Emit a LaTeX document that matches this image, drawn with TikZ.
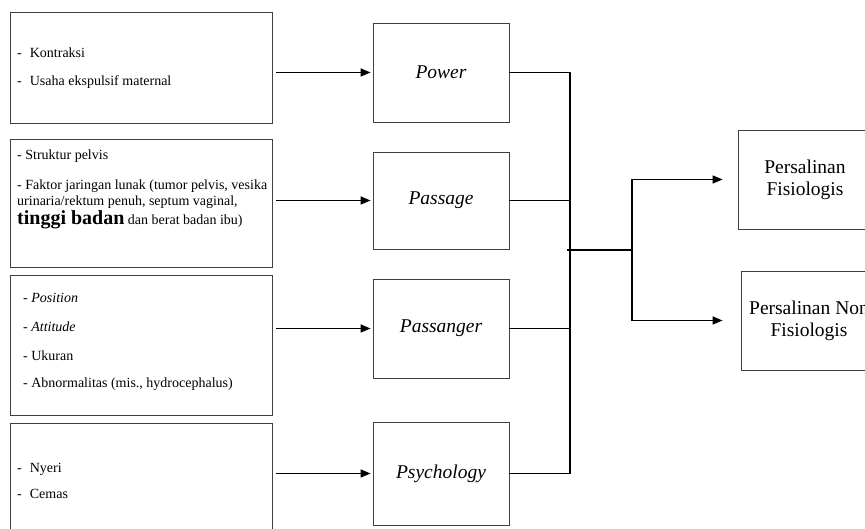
\documentclass[tikz,border=0pt]{standalone}
\usepackage{fontspec}
\setmainfont{Liberation Serif}
\usetikzlibrary{arrows.meta,positioning}
\begin{document}
\begin{tikzpicture}[x=1pt,y=-1pt,
  kotak/.style={draw=black!75,line width=0.8pt,minimum width=262pt,inner sep=0pt},
  utama/.style={draw=black!75,line width=0.8pt,minimum width=136pt,minimum height=99pt,font=\fontsize{19.5}{22}\selectfont\itshape},
  hasil/.style={draw=black!75,line width=0.8pt,minimum width=136pt,minimum height=99pt,align=center,font=\fontsize{19.5}{22}\selectfont},
  isi/.style={anchor=base west,inner sep=0pt,font=\fontsize{14}{17}\selectfont},
  panah/.style={line width=1.4pt,-{Triangle[length=10pt,width=8pt]}},
  garis/.style={line width=1.4pt}]

\useasboundingbox (0,0) rectangle (865,529);
\clip (0,0) rectangle (865,529);

% kotak faktor di kiri
\node[kotak, minimum height=111pt] (k1) at (141,67.5) {};
\node[kotak, minimum height=128pt] (k2) at (141,203) {};
\node[kotak, minimum height=140pt] (k3) at (141,345) {};
\node[kotak, minimum height=117pt] (k4) at (141,481.5) {};

\node[isi] (k1a) at (17,58) {-\hspace{8pt}Kontraksi};
\node[isi] (k1b) at (17,86) {-\hspace{8pt}Usaha ekspulsif maternal};

\node[isi] (k2a) at (17,160) {- Struktur pelvis};
\node[isi] (k2b) at (17,190) {- Faktor jaringan lunak (tumor pelvis, vesika};
\node[isi] (k2c) at (17,206) {urinaria/rektum penuh, septum vaginal,};
\node[isi] (k2d) at (17,225) {{\fontsize{20}{20}\selectfont\bfseries tinggi badan} dan berat badan ibu)};

\node[isi] (k3a) at (23,303) {- \textit{Position}};
\node[isi] (k3b) at (23,332) {- \textit{Attitude}};
\node[isi] (k3c) at (23,360) {- Ukuran};
\node[isi] (k3d) at (23,388) {- Abnormalitas (mis., hydrocephalus)};

\node[isi] (k4a) at (17,472) {-\hspace{8pt}Nyeri};
\node[isi] (k4b) at (17,498) {-\hspace{8pt}Cemas};

% kotak utama
\node[utama] (m1) at (441,72.5) {Power};
\node[utama, minimum height=97pt] (m2) at (441,200.5) {Passage};
\node[utama] (m3) at (441,328.5) {Passanger};
\node[utama, minimum height=103pt] (m4) at (441,473.5) {Psychology};

% kotak hasil
\node[hasil, minimum width=134pt] (h1) at (805,179.5) {Persalinan\\Fisiologis};
\node[hasil] (h2) at (809,320.5) {Persalinan Non\\Fisiologis};

% panah masuk
\draw[panah, shorten <=4pt, shorten >=2pt] (k1.east |- m1) -- (m1.west);
\draw[panah, shorten <=4pt, shorten >=2pt] (k2.east |- m2) -- (m2.west);
\draw[panah, shorten <=4pt, shorten >=2pt] (k3.east |- m3) -- (m3.west);
\draw[panah, shorten <=4pt, shorten >=2pt] (k4.east |- m4) -- (m4.west);

% garis gabung
\coordinate (bus) at (570,0);
\draw[garis] (m1.east) -- (m1.east -| bus);
\draw[garis] (m2.east) -- (m2.east -| bus);
\draw[garis] (m3.east) -- (m3.east -| bus);
\draw[garis] (m4.east) -- (m4.east -| bus);
\draw[garis] (m1.east -| bus) -- (m4.east -| bus);

\coordinate (gabung) at (567,250);
\coordinate (cabang) at (632,250);
\draw[garis] (gabung) -- (cabang);
\draw[panah, shorten >=15pt] (cabang) |- (h1.west);
\draw[panah, shorten >=18pt] (cabang) |- (h2.west);
\end{tikzpicture}
\end{document}
